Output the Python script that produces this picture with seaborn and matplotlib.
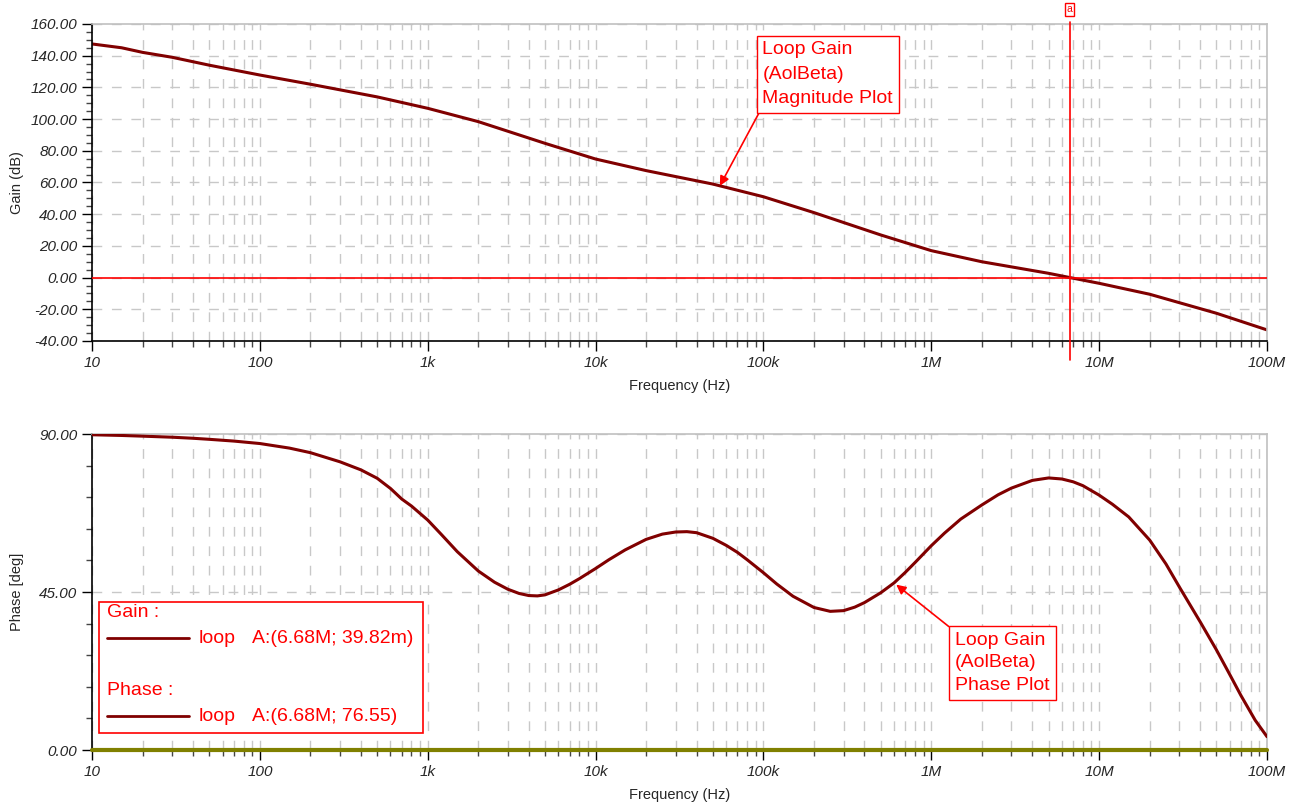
import numpy as np
import matplotlib
matplotlib.use("Agg")
import matplotlib.pyplot as plt
import matplotlib.transforms as mtransforms
from matplotlib.ticker import FixedLocator, LogLocator, NullFormatter, MultipleLocator
import seaborn as sns

# loop gain magnitude
gain_freq = [10, 15, 20, 30, 50, 100, 200, 500, 1e3, 2e3, 5e3, 1e4, 2e4, 5e4,
             1e5, 2e5, 5e5, 1e6, 2e6, 5e6, 6.68e6, 1e7, 2e7, 5e7, 1e8]
gain_db = [147.4, 145.0, 142.1, 139.0, 134.0, 127.8, 122.0, 114.0, 106.8, 98.4,
           84.7, 74.8, 67.5, 59.0, 51.0, 41.0, 26.9, 17.0, 10.0, 2.7, 0.04,
           -3.6, -10.5, -22.5, -33.0]

# loop gain phase
phase_freq = [10, 15, 20, 30, 40, 50, 70, 100, 150, 200, 300, 400, 500, 600,
              700, 800, 1e3, 1.2e3, 1.5e3, 2e3, 2.5e3, 3e3, 3.5e3, 4e3, 4.5e3,
              5e3, 6e3, 7e3, 8e3, 1e4, 1.2e4, 1.5e4, 2e4, 2.5e4, 3e4, 3.5e4,
              4e4, 5e4, 6e4, 7e4, 8e4, 1e5, 1.2e5, 1.5e5, 2e5, 2.5e5, 3e5,
              3.5e5, 4e5, 5e5, 6e5, 7e5, 8e5, 1e6, 1.2e6, 1.5e6, 2e6, 2.5e6,
              3e6, 4e6, 5e6, 6e6, 7e6, 8e6, 1e7, 1.2e7, 1.5e7, 2e7, 2.5e7,
              3e7, 4e7, 5e7, 6e7, 7e7, 8.5e7, 1e8]
phase_deg = [89.8, 89.6, 89.4, 89.1, 88.8, 88.5, 88.0, 87.3, 86.0, 84.7, 82.1,
             79.8, 77.4, 74.5, 71.5, 69.5, 65.5, 61.5, 56.5, 51.0, 47.8, 45.8,
             44.6, 44.0, 43.9, 44.2, 45.6, 47.2, 48.8, 51.7, 54.2, 57.0, 60.0,
             61.5, 62.1, 62.2, 61.9, 60.3, 58.3, 56.3, 54.2, 50.5, 47.3, 43.8,
             40.6, 39.5, 39.7, 40.7, 42.0, 44.8, 47.6, 50.6, 53.4, 58.2, 61.8,
             65.8, 69.8, 72.7, 74.6, 76.8, 77.5, 77.2, 76.4, 75.3, 72.6, 70.0,
             66.4, 59.8, 53.0, 46.5, 36.5, 28.5, 21.5, 15.5, 8.5, 3.8]

freq_ticks = [10, 100, 1e3, 1e4, 1e5, 1e6, 1e7, 1e8]
freq_labels = ["10", "100", "1k", "10k", "100k", "1M", "10M", "100M"]
gain_ticks = [-40, -20, 0, 20, 40, 60, 80, 100, 120, 140, 160]
phase_ticks = [0, 45, 90]

cursor_freq = 6.68e6
cursor_gain = "39.82m"
cursor_phase = "76.55"
mag_note_freq = 55e3
phase_note_freq = 0.6e6

sns.set_style("white")
plt.rcParams["font.family"] = ["Liberation Sans", "DejaVu Sans"]

trace = "#800000"
red = "#ff0000"
grid_c = "#c8c8c8"

fig = plt.figure(figsize=(13.07, 8.05), dpi=100)
ax1 = fig.add_axes([0.0704, 0.5764, 0.899, 0.3938])
ax2 = fig.add_axes([0.0704, 0.0683, 0.899, 0.3925])


def style_axes(ax, yticks, ylabel, fmt):
    ax.set_xscale("log")
    ax.set_xlim(10, 1e8)
    ax.xaxis.set_major_locator(FixedLocator(freq_ticks))
    ax.xaxis.set_minor_locator(LogLocator(base=10, subs=np.arange(2, 10)))
    ax.xaxis.set_minor_formatter(NullFormatter())
    ax.set_xticklabels(freq_labels)
    ax.set_yticks(yticks)
    ax.set_yticklabels([fmt % v for v in yticks])
    ax.grid(True, which="both", axis="x", color=grid_c, ls=(0, (7, 7)), lw=1)
    ax.grid(True, which="major", axis="y", color=grid_c, ls=(0, (7, 7)), lw=1)
    for s in ["top", "right"]:
        ax.spines[s].set_color("#c0c0c0")
        ax.spines[s].set_linewidth(1.2)
    for s in ["left", "bottom"]:
        ax.spines[s].set_color("black")
        ax.spines[s].set_linewidth(1.2)
    ax.tick_params(axis="both", which="major", direction="out", length=7,
                   width=1, color="black", labelsize=11, left=True, bottom=True)
    ax.tick_params(axis="both", which="minor", direction="out", length=4,
                   width=1, color="#444444", left=True, bottom=True)
    for lab in ax.get_xticklabels() + ax.get_yticklabels():
        lab.set_fontstyle("italic")
    ax.set_xlabel("Frequency (Hz)", fontsize=10.5, labelpad=7)
    ax.set_ylabel(ylabel, fontsize=10.5)
    ax.yaxis.set_label_coords(-0.058, 0.5)


# magnitude plot
sns.lineplot(x=gain_freq, y=gain_db, ax=ax1, color=trace, lw=2.2)
ax1.set_ylim(-40, 160)
style_axes(ax1, gain_ticks, "Gain (dB)", "%.2f")
ax1.yaxis.set_minor_locator(MultipleLocator(5))
ax1.axhline(0, color=red, lw=1.2, zorder=3)
ax1.axvline(cursor_freq, ymin=-0.06, ymax=1.005, color=red, lw=1.2,
            clip_on=False, zorder=4)
ax1.annotate("a", xy=(cursor_freq, 1.0),
             xycoords=mtransforms.blended_transform_factory(ax1.transData, ax1.transAxes),
             xytext=(0, 7), textcoords="offset points", ha="center", va="bottom",
             fontsize=7.5, color=red,
             bbox=dict(boxstyle="square,pad=0.15", fc="white", ec=red, lw=1))

mag_y = np.interp(np.log10(mag_note_freq), np.log10(gain_freq), gain_db)
ax1.annotate("Loop Gain\n(AolBeta)\nMagnitude Plot", xy=(mag_note_freq, mag_y),
             xytext=(0.5705, 0.945), textcoords="axes fraction", ha="left",
             va="top", fontsize=14, color=red, linespacing=1.55,
             bbox=dict(boxstyle="square,pad=0.3", fc="white", ec=red, lw=1),
             arrowprops=dict(arrowstyle="-|>", color=red, lw=1.2,
                             relpos=(0, 0), shrinkA=0, shrinkB=0,
                             mutation_scale=14))

# phase plot
sns.lineplot(x=phase_freq, y=phase_deg, ax=ax2, color=trace, lw=2.2, zorder=3)
ax2.set_ylim(0, 90)
style_axes(ax2, phase_ticks, "Phase [deg]", "%.2f")
ax2.yaxis.set_minor_locator(MultipleLocator(9))
ax2.axhline(0, color="#808000", lw=3, zorder=4, clip_on=False)

ph_y = np.interp(np.log10(phase_note_freq), np.log10(phase_freq), phase_deg)
ax2.annotate("Loop Gain\n(AolBeta)\nPhase Plot", xy=(phase_note_freq, ph_y),
             xytext=(0.7345, 0.375), textcoords="axes fraction", ha="left",
             va="top", fontsize=14, color=red, linespacing=1.45,
             bbox=dict(boxstyle="square,pad=0.3", fc="white", ec=red, lw=1),
             arrowprops=dict(arrowstyle="-|>", color=red, lw=1.2,
                             relpos=(0, 1), shrinkA=0, shrinkB=2,
                             mutation_scale=14))

# cursor readout box
tr = ax2.transAxes
ax2.add_patch(plt.Rectangle((0.006, 0.055), 0.2757, 0.414, transform=tr,
                            fc="white", ec=red, lw=1.2, zorder=5))
rows = [("Gain :", 0.4345, 0.3544, cursor_gain), ("Phase :", 0.1877, 0.1076, cursor_phase)]
for title, ty, ly, val in rows:
    ax2.text(0.0128, ty, title, transform=tr, color=red, fontsize=14,
             va="center", ha="left", zorder=6)
    ax2.plot([0.0128, 0.0826], [ly, ly], transform=tr, color=trace, lw=2,
             zorder=6)
    ax2.text(0.091, ly, "loop", transform=tr, color=red, fontsize=14,
             va="center", ha="left", zorder=6)
    ax2.text(0.136, ly, "A:(6.68M; %s)" % val, transform=tr, color=red,
             fontsize=14, va="center", ha="left", zorder=6)

fig.savefig("out.png", dpi=100)
